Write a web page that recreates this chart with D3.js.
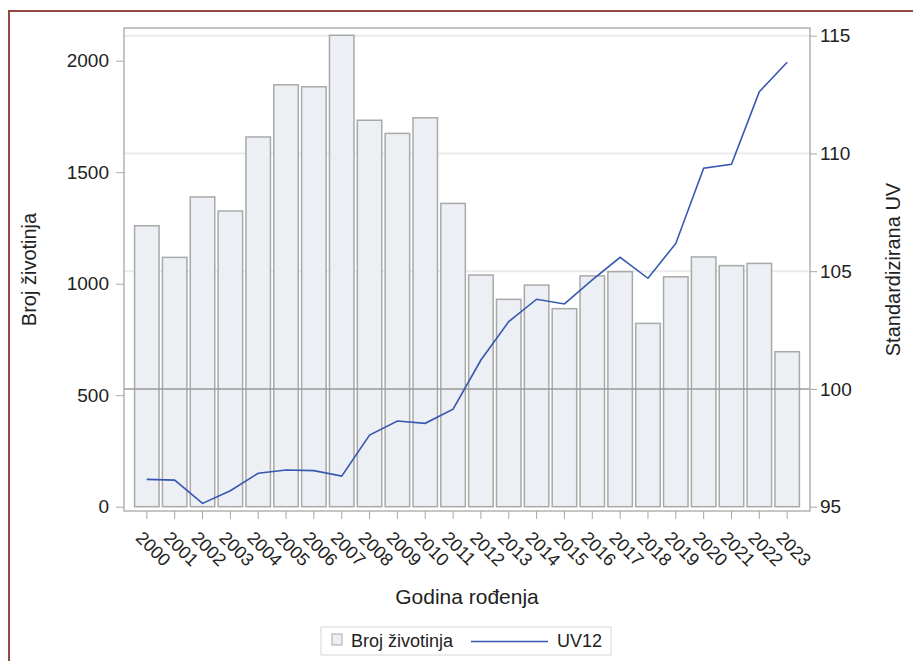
<!DOCTYPE html>
<html>
<head>
<meta charset="utf-8">
<script src="https://cdn.jsdelivr.net/npm/d3@7"></script>
<style>
  body { margin: 0; background: #fff; }
  text { font-family: "Liberation Sans", Arial, sans-serif; fill: #222; }
</style>
</head>
<body>
<svg id="chart" width="913" height="661"></svg>
<script>
const years = ['2000','2001','2002','2003','2004','2005','2006','2007','2008','2009','2010','2011',
               '2012','2013','2014','2015','2016','2017','2018','2019','2020','2021','2022','2023'];
const brojZivotinja = [1260,1118,1389,1326,1658,1892,1883,2114,1733,1674,1744,1360,
                       1039,930,994,888,1035,1054,822,1031,1120,1081,1091,695];
const uv12 = [96.16,96.13,95.14,95.68,96.42,96.56,96.53,96.30,98.04,98.64,98.54,99.14,
              101.23,102.86,103.81,103.61,104.63,105.59,104.70,106.18,109.37,109.54,112.62,113.87];
const leftTicks = [0,500,1000,1500,2000];
const rightTicks = [95,100,105,110,115];
const refLine = 100;

const WIDTH = 913, HEIGHT = 661;
const MARGIN = {left: 124, right: 103, top: 28, bottom: 150};
const FONT = '"Liberation Sans", Arial, sans-serif';

let svg = d3.select('#chart');

// outer frame
svg.append('rect')
    .attr('x', 9).attr('y', 11)
    .attr('width', WIDTH).attr('height', HEIGHT)
    .attr('fill', 'none')
    .attr('stroke', '#93493f')
    .attr('stroke-width', 2);

let x0 = MARGIN.left, x1 = WIDTH - MARGIN.right;
let yTop = MARGIN.top, yBot = HEIGHT - MARGIN.bottom;
let yZero = 506.7;

let xScale = d3.scaleBand()
    .domain(years)
    .range([x0, x1])
    .paddingInner(0.12)
    .paddingOuter(0.38);

let yLeft = d3.scaleLinear()
    .domain([0, 2000])
    .range([yZero, yZero - 4 * 111.5]);

let yRight = d3.scaleLinear()
    .domain([95, 115])
    .range([yZero, yZero - 4 * 117.75]);

// gridlines from right axis
svg.append('g').selectAll('line')
    .data(rightTicks.filter(d => d !== 95 && d !== refLine))
    .join('line')
    .attr('x1', x0).attr('x2', x1)
    .attr('y1', d => yRight(d)).attr('y2', d => yRight(d))
    .attr('stroke', '#ebebeb')
    .attr('stroke-width', 2);

// bars
svg.append('g').selectAll('rect')
    .data(brojZivotinja)
    .join('rect')
    .attr('x', (d, i) => xScale(years[i]))
    .attr('y', d => yLeft(d))
    .attr('width', xScale.bandwidth())
    .attr('height', d => yLeft(0) - yLeft(d))
    .attr('fill', '#eceff4')
    .attr('stroke', '#a9a9a9')
    .attr('stroke-width', 1.5);

// reference line at 100
svg.append('line')
    .attr('x1', x0).attr('x2', x1)
    .attr('y1', yRight(refLine)).attr('y2', yRight(refLine))
    .attr('stroke', '#9a9a9a')
    .attr('stroke-width', 1.5);

// UV12 line
let line = d3.line()
    .x((d, i) => xScale(years[i]) + xScale.bandwidth() / 2)
    .y(d => yRight(d));
svg.append('path')
    .datum(uv12)
    .attr('d', line)
    .attr('fill', 'none')
    .attr('stroke', '#3658b0')
    .attr('stroke-width', 1.6);

// plot frame
svg.append('rect')
    .attr('x', x0).attr('y', yTop)
    .attr('width', x1 - x0).attr('height', yBot - yTop)
    .attr('fill', 'none')
    .attr('stroke', '#b2b2b2')
    .attr('stroke-width', 1.5);

// left axis
let gl = svg.append('g')
    .attr('transform', `translate(${x0}, 0)`)
    .call(d3.axisLeft(yLeft).tickValues(leftTicks).tickFormat(d3.format('d')).tickSize(8).tickPadding(7));
gl.select('.domain').remove();
gl.selectAll('.tick line').attr('stroke', '#a8a8a8');
gl.selectAll('.tick text').attr('font-size', '19px').attr('fill', '#222')
    .attr('font-family', FONT);

// right axis
let gr = svg.append('g')
    .attr('transform', `translate(${x1}, 0)`)
    .call(d3.axisRight(yRight).tickValues(rightTicks).tickSize(7).tickPadding(3));
gr.select('.domain').remove();
gr.selectAll('.tick line').attr('stroke', '#a8a8a8');
gr.selectAll('.tick text').attr('font-size', '19px').attr('fill', '#222')
    .attr('font-family', FONT);

// bottom axis
let gb = svg.append('g')
    .attr('transform', `translate(0, ${yBot})`)
    .call(d3.axisBottom(xScale).tickSize(8).tickPadding(4));
gb.select('.domain').remove();
gb.selectAll('.tick line').attr('stroke', '#a8a8a8');
gb.selectAll('.tick text')
    .attr('font-size', '18px').attr('fill', '#222')
    .attr('font-family', FONT)
    .attr('text-anchor', 'start')
    .attr('dy', null)
    .attr('y', 0)
    .attr('transform', 'translate(-12, 28) rotate(45)');

// axis titles
svg.append('text')
    .text('Broj životinja')
    .attr('transform', `translate(36, ${(yTop + yBot) / 2}) rotate(-90)`)
    .attr('text-anchor', 'middle')
    .attr('font-size', '20px');

svg.append('text')
    .text('Standardizirana UV')
    .attr('transform', `translate(900, ${(yTop + yBot) / 2}) rotate(-90)`)
    .attr('text-anchor', 'middle')
    .attr('font-size', '20px');

svg.append('text')
    .text('Godina rođenja')
    .attr('x', (x0 + x1) / 2)
    .attr('y', 604)
    .attr('text-anchor', 'middle')
    .attr('font-size', '21px');

// legend
let lg = svg.append('g');
lg.append('rect')
    .attr('x', 321).attr('y', 627)
    .attr('width', 290).attr('height', 28)
    .attr('fill', '#fff')
    .attr('stroke', '#d6d6d6');
lg.append('rect')
    .attr('x', 332).attr('y', 634)
    .attr('width', 10).attr('height', 11)
    .attr('fill', '#eceff4')
    .attr('stroke', '#a9a9a9');
lg.append('text')
    .text('Broj životinja')
    .attr('x', 351).attr('y', 647)
    .attr('font-size', '18px');
lg.append('line')
    .attr('x1', 471).attr('x2', 548)
    .attr('y1', 641.5).attr('y2', 641.5)
    .attr('stroke', '#3658b0')
    .attr('stroke-width', 1.6);
lg.append('text')
    .text('UV12')
    .attr('x', 557).attr('y', 647)
    .attr('font-size', '18px');
</script>
</body>
</html>
